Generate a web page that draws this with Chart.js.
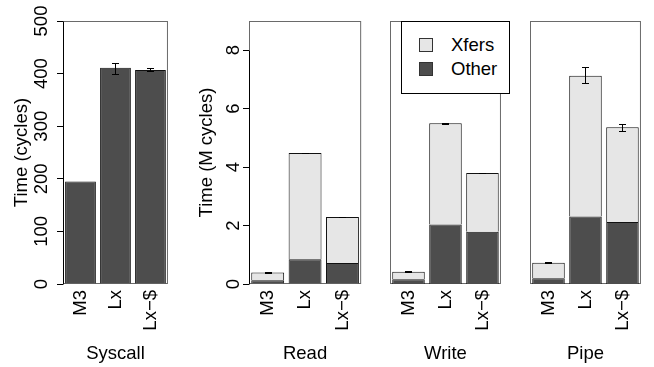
<!DOCTYPE html>
<html><head><meta charset="utf-8">
<script src="https://cdn.jsdelivr.net/npm/chart.js@4"></script>
<style>
html,body{margin:0;padding:0;background:#fff;width:654px;height:367px;overflow:hidden;position:relative;font-family:'Liberation Sans',Arial,sans-serif;}
canvas{position:absolute;top:0;}
#legend{position:absolute;left:401px;top:21px;width:109px;height:73px;box-sizing:border-box;border:1px solid #000;background:#fff;}
#legend .sw{position:absolute;left:17px;width:14px;height:14px;box-sizing:border-box;border:1px solid #333;}
#legend .tx{position:absolute;left:49px;font-size:18.5px;line-height:20px;color:#000;white-space:nowrap;}
</style></head><body>
<canvas id="c0" width="179" height="367" style="left:0"></canvas>
<canvas id="c1" width="186" height="367" style="left:185px"></canvas>
<canvas id="c2" width="123" height="367" style="left:388px"></canvas>
<canvas id="c3" width="123" height="367" style="left:528px"></canvas>
<div id="legend"></div>
<script>
// ---- data ----
const categories = ['M3', 'Lx', 'Lx\u2212$'];
const panelNames = ['Syscall', 'Read', 'Write', 'Pipe'];
const seriesNames = ['Xfers', 'Other'];
const yTitleCycles = 'Time (cycles)';
const yTitleMCycles = 'Time (M cycles)';
const yTicksCycles = [0, 100, 200, 300, 400, 500];
const yTicksMCycles = [0, 2, 4, 6, 8];

const syscallTime = [195, 411, 407];
const syscallErrLow = [null, 399, 404];
const syscallErrHigh = [null, 421, 411];

const readOther = [0.13, 0.85, 0.72];
const readXfers = [0.26, 3.63, 1.57];
const readErrLow = [0.38, 4.47, 2.28];
const readErrHigh = [0.40, 4.49, 2.30];

const writeOther = [0.16, 2.04, 1.79];
const writeXfers = [0.26, 3.46, 2.01];
const writeErrLow = [0.41, 5.49, 3.79];
const writeErrHigh = [0.43, 5.51, 3.81];

const pipeOther = [0.20, 2.31, 2.12];
const pipeXfers = [0.53, 4.82, 3.24];
const pipeErrLow = [0.72, 6.87, 5.23];
const pipeErrHigh = [0.74, 7.42, 5.48];

// ---- styling ----
const DARK = '#4d4d4d', LIGHT = '#e6e6e6';
Chart.defaults.font.family = "'Liberation Sans', Arial, sans-serif";
Chart.defaults.font.size = 18.5;
Chart.defaults.color = '#000';

const boxPlugin = {
  id: 'panelBox',
  beforeDraw(chart) {
    const a = chart.chartArea, ctx = chart.ctx;
    ctx.save();
    ctx.strokeStyle = '#6a6a6a'; ctx.lineWidth = 1;
    ctx.strokeRect(a.left + 0.5, a.top + 0.5, a.right - a.left - 1, a.bottom - a.top - 1);
    ctx.restore();
  },
  afterDraw(chart) {
    const y = chart.scales.y;
    if (!y.options.display) return;
    const a = chart.chartArea, ctx = chart.ctx;
    const t = y.ticks;
    ctx.save();
    ctx.strokeStyle = '#000'; ctx.lineWidth = 1;
    ctx.beginPath();
    ctx.moveTo(a.left + 0.5, y.getPixelForValue(t[0].value) + 0.5);
    ctx.lineTo(a.left + 0.5, y.getPixelForValue(t[t.length - 1].value) + 0.5);
    ctx.stroke();
    ctx.restore();
  }
};

const errPlugin = {
  id: 'errBars',
  afterDatasetsDraw(chart, args, opts) {
    if (!opts || !opts.lo) return;
    const x = chart.scales.x, y = chart.scales.y, ctx = chart.ctx;
    ctx.save();
    ctx.strokeStyle = '#000'; ctx.lineWidth = 1;
    opts.lo.forEach((lo, i) => {
      const hi = opts.hi[i];
      if (lo == null || hi == null) return;
      const px = Math.round(x.getPixelForValue(i)) + 0.5;
      const y1 = Math.round(y.getPixelForValue(lo)) + 0.5;
      const y2 = Math.round(y.getPixelForValue(hi)) + 0.5;
      ctx.beginPath();
      ctx.moveTo(px, y1); ctx.lineTo(px, y2);
      ctx.moveTo(px - 3.5, y1); ctx.lineTo(px + 3.5, y1);
      ctx.moveTo(px - 3.5, y2); ctx.lineTo(px + 3.5, y2);
      ctx.stroke();
    });
    ctx.restore();
  }
};

function makePanel(id, cfg) {
  return new Chart(document.getElementById(id), {
    type: 'bar',
    data: { labels: categories, datasets: cfg.datasets },
    plugins: [boxPlugin, errPlugin],
    options: {
      responsive: false,
      animation: false,
      events: [],
      layout: { padding: { top: 21, bottom: 0, left: cfg.padLeft, right: 2 } },
      datasets: { bar: { categoryPercentage: 1, barPercentage: 0.88, borderWidth: 1, borderColor: '#111' } },
      plugins: {
        legend: { display: false },
        tooltip: { enabled: false },
        errBars: { lo: cfg.lo, hi: cfg.hi }
      },
      scales: {
        x: {
          type: 'category', stacked: true, offset: true,
          grid: { display: false, drawTicks: false },
          border: { display: false },
          ticks: { minRotation: 90, maxRotation: 90, padding: 6, autoSkip: false, color: '#000' },
          title: { display: true, text: cfg.xTitle, color: '#000', padding: { top: 0, bottom: 2.2 } },
          afterFit(s) { s.height = 83; }
        },
        y: {
          display: cfg.yTitle != null,
          stacked: true, min: 0, max: cfg.yMax,
          afterBuildTicks(s) { s.ticks = cfg.yTicks.map(v => ({ value: v })); },
          grid: { display: true, drawOnChartArea: false, drawTicks: true, tickLength: 6, color: '#000' },
          border: { display: false },
          ticks: { minRotation: 90, maxRotation: 90, crossAlign: 'center', padding: cfg.tickPad, color: '#000' },
          title: { display: cfg.yTitle != null, text: cfg.yTitle || '', color: '#000', padding: { top: 10.4, bottom: 0 } },
          afterFit(s) { if (cfg.yWidth) s.width = cfg.yWidth; }
        }
      }
    }
  });
}

function stacked(other, xfers) {
  return [
    { label: seriesNames[1], data: other, backgroundColor: DARK },
    { label: seriesNames[0], data: xfers, backgroundColor: LIGHT }
  ];
}

makePanel('c0', {
  datasets: [{ label: panelNames[0], data: syscallTime, backgroundColor: DARK }],
  xTitle: panelNames[0], yTitle: yTitleCycles, yTicks: yTicksCycles, yMax: 500,
  yWidth: 63, tickPad: 0, padLeft: 0, lo: syscallErrLow, hi: syscallErrHigh
});
makePanel('c1', {
  datasets: stacked(readOther, readXfers),
  xTitle: panelNames[1], yTitle: yTitleMCycles, yTicks: yTicksMCycles, yMax: 9,
  yWidth: 64, tickPad: 4, padLeft: 0, lo: readErrLow, hi: readErrHigh
});
const writeChart = makePanel('c2', {
  datasets: stacked(writeOther, writeXfers),
  xTitle: panelNames[2], yTitle: null, yTicks: yTicksMCycles, yMax: 9,
  yWidth: 0, tickPad: 0, padLeft: 2, lo: writeErrLow, hi: writeErrHigh
});
makePanel('c3', {
  datasets: stacked(pipeOther, pipeXfers),
  xTitle: panelNames[3], yTitle: null, yTicks: yTicksMCycles, yMax: 9,
  yWidth: 0, tickPad: 0, padLeft: 2, lo: pipeErrLow, hi: pipeErrHigh
});

// legend (HTML, built from the Write chart's datasets, Xfers first)
const leg = document.getElementById('legend');
writeChart.data.datasets.slice().reverse().forEach((ds, k) => {
  const sw = document.createElement('div');
  sw.className = 'sw';
  sw.style.top = (16 + k * 24) + 'px';
  sw.style.background = ds.backgroundColor;
  const tx = document.createElement('div');
  tx.className = 'tx';
  tx.style.top = (13 + k * 24) + 'px';
  tx.textContent = ds.label;
  leg.appendChild(sw); leg.appendChild(tx);
});
</script>
</body></html>
